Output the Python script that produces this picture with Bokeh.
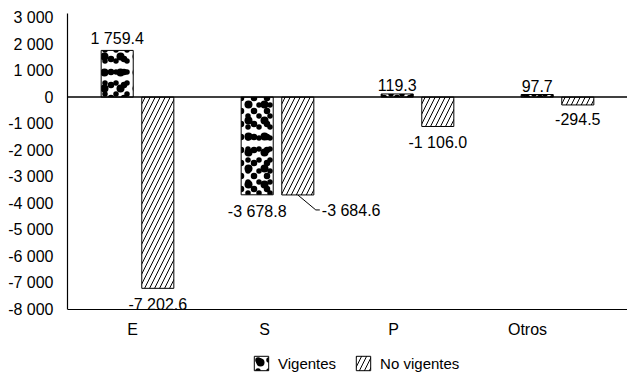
import numpy as np
from bokeh.plotting import figure
from bokeh.models import Range1d, FixedTicker, Span, Label, Legend, LegendItem, LinearAxis
from bokeh.embed import file_html
from bokeh.resources import INLINE

# ---- data ----
categories = ["E", "S", "P", "Otros"]
vigentes = [1759.4, -3678.8, 119.3, 97.7]
no_vigentes = [-7202.6, -3684.6, -1106.0, -294.5]
series_names = ["Vigentes", "No vigentes"]
y_ticks = [3000, 2000, 1000, 0, -1000, -2000, -3000, -4000, -5000, -6000, -7000, -8000]

FONT = "Liberation Sans"
FS = "16px"

Y_MIN, Y_MAX = -8000, 3150
# frame extends below the axis so that category labels and legend sit inside it
PX_PER_Y = 296 / (Y_MAX - Y_MIN)
Y_LOW = Y_MIN - 69 / PX_PER_Y


def fmt_int(v):
    return f"{v:,}".replace(",", " ")


def fmt_val(v):
    return f"{v:,.1f}".replace(",", " ")


p = figure(frame_width=560, frame_height=365,
           x_range=Range1d(0, len(categories)), y_range=Range1d(Y_LOW, Y_MAX),
           output_backend="svg", toolbar_location=None,
           x_axis_location=None, y_axis_location=None,
           min_border_left=67, min_border_right=0, min_border_top=13, min_border_bottom=0)

xc = np.arange(len(categories)) + 0.5
off = 0.145
bw = 0.229

# "Vigentes": white bars with an irregular-looking dot texture (several dot lattices overlaid)
r1 = p.vbar(x=xc - off, top=vigentes, bottom=0, width=bw,
            fill_color="white", line_color="black", line_width=1,
            hatch_pattern=".", hatch_color="black", hatch_scale=16)
r1b = p.vbar(x=xc - off, top=vigentes, bottom=0, width=bw,
             fill_alpha=0, line_alpha=0,
             hatch_pattern=".", hatch_color="black", hatch_scale=11)
r1c = p.vbar(x=xc - off, top=vigentes, bottom=0, width=bw,
             fill_alpha=0, line_alpha=0,
             hatch_pattern=".", hatch_color="black", hatch_scale=13)
r2 = p.vbar(x=xc + off, top=no_vigentes, bottom=0, width=bw,
            fill_color="white", line_color="black", line_width=1,
            hatch_pattern="/", hatch_color="black", hatch_scale=10, hatch_weight=1)

p.add_layout(Span(location=0, dimension="width", line_color="black", line_width=1.5))
# x axis line at the bottom of the value range
p.add_layout(Span(location=Y_MIN, dimension="width", line_color="black", line_width=1.2))

p.grid.visible = False
p.outline_line_color = None

yax = LinearAxis(bounds=(Y_MIN, Y_MAX))
yax.ticker = FixedTicker(ticks=y_ticks)
yax.major_label_overrides = {t: fmt_int(t) for t in y_ticks}
yax.major_tick_out = 0
yax.major_tick_in = 0
yax.minor_tick_out = 0
yax.minor_tick_in = 0
yax.major_label_standoff = 14
yax.axis_line_color = "black"
yax.axis_line_width = 1.2
yax.major_label_text_font = FONT
yax.major_label_text_font_size = FS
yax.major_label_text_color = "black"
p.add_layout(yax, "left")

# category labels (as in the source, drawn slightly left of the bar pairs)
cat_shift = [-5, -13, -24, -30]
for i, c in enumerate(categories):
    p.add_layout(Label(x=xc[i], y=Y_MIN, x_offset=cat_shift[i], y_offset=-11,
                       text=c, text_align="center", text_baseline="top",
                       text_font=FONT, text_font_size=FS, text_color="black"))

# value labels
for xs, vals in ((xc - off, vigentes), (xc + off, no_vigentes)):
    for x, v in zip(xs, vals):
        if v == -3684.6:
            continue
        if v >= 0:
            p.add_layout(Label(x=x, y=v, y_offset=3, text=fmt_val(v), text_align="center",
                               text_baseline="bottom", text_font=FONT, text_font_size=FS,
                               text_color="black"))
        else:
            p.add_layout(Label(x=x, y=v, y_offset=-8, text=fmt_val(v), text_align="center",
                               text_baseline="top", text_font=FONT, text_font_size=FS,
                               text_color="black"))

# label with leader line for S / No vigentes
xs_ = xc[1] + off
vs_ = no_vigentes[1]
px_per_x = 560 / 4
p.line(x=[xs_, xs_ + 18 / px_per_x, xs_ + 22 / px_per_x],
       y=[vs_, vs_ - 15 / PX_PER_Y, vs_ - 15 / PX_PER_Y],
       line_color="black", line_width=1)
p.add_layout(Label(x=xs_, y=vs_, x_offset=24, y_offset=-15.5, text=fmt_val(vs_),
                   text_align="left", text_baseline="middle", text_font=FONT,
                   text_font_size=FS, text_color="black"))

legend = Legend(items=[LegendItem(label=series_names[0], renderers=[r1, r1b, r1c]),
                       LegendItem(label=series_names[1], renderers=[r2])],
                location=(185, 6), orientation="horizontal", padding=0, margin=0,
                spacing=18, glyph_width=18, glyph_height=18, label_height=18,
                label_standoff=8, label_text_font=FONT, label_text_font_size="15px",
                label_text_color="black",
                border_line_color=None, background_fill_alpha=0)
p.add_layout(legend)

open("out.html", "w").write(file_html(p, INLINE))
